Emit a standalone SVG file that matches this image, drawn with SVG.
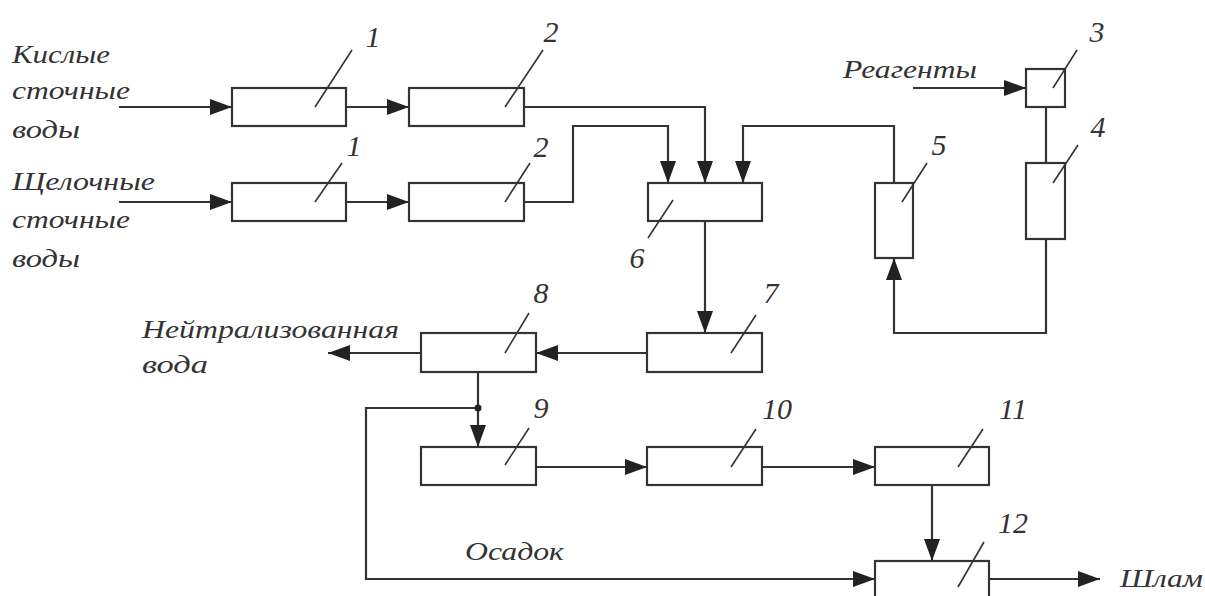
<svg xmlns="http://www.w3.org/2000/svg" width="1205" height="596" viewBox="0 0 1205 596">
<style>
.box{fill:#fff;stroke:#333;stroke-width:2.2}
.ln{fill:none;stroke:#333;stroke-width:2.2}
.ld{stroke:#333;stroke-width:1.6}
.t{font-family:"Liberation Serif","DejaVu Serif",serif;font-style:italic;font-size:25px;fill:#333}
.n{font-family:"Liberation Serif","DejaVu Serif",serif;font-style:italic;font-size:30px;fill:#333;text-anchor:middle}
</style>
<defs>
<marker id="ah" markerUnits="userSpaceOnUse" markerWidth="24" markerHeight="16" refX="22" refY="8" orient="auto">
<path d="M0,0 L22,8 L0,16 Z" fill="#222"/>
</marker>
</defs>
<rect width="1205" height="596" fill="#fff"/>
<g id="connectors">
<line class="ln" x1="119" y1="107" x2="232" y2="107" marker-end="url(#ah)"/>
<line class="ln" x1="346" y1="107" x2="409" y2="107" marker-end="url(#ah)"/>
<line class="ln" x1="119" y1="202" x2="232" y2="202" marker-end="url(#ah)"/>
<line class="ln" x1="346" y1="202" x2="409" y2="202" marker-end="url(#ah)"/>
<polyline class="ln" points="524,107 705,107 705,183" marker-end="url(#ah)"/>
<polyline class="ln" points="524,202 573,202 573,126 668,126 668,183" marker-end="url(#ah)"/>
<polyline class="ln" points="894,183 894,126 743,126 743,183" marker-end="url(#ah)"/>
<line class="ln" x1="913" y1="88" x2="1026" y2="88" marker-end="url(#ah)"/>
<line class="ln" x1="1046" y1="107" x2="1046" y2="163"/>
<polyline class="ln" points="1046,239 1046,333 894,333 894,258" marker-end="url(#ah)"/>
<line class="ln" x1="705" y1="221" x2="705" y2="333" marker-end="url(#ah)"/>
<line class="ln" x1="647" y1="353" x2="536" y2="353" marker-end="url(#ah)"/>
<line class="ln" x1="421" y1="353" x2="328" y2="353" marker-end="url(#ah)"/>
<line class="ln" x1="478" y1="372" x2="478" y2="447" marker-end="url(#ah)"/>
<polyline class="ln" points="478,408 366,408 366,579 875,579" marker-end="url(#ah)"/>
<circle cx="478" cy="408" r="3.5" fill="#222"/>
<line class="ln" x1="536" y1="467" x2="647" y2="467" marker-end="url(#ah)"/>
<line class="ln" x1="762" y1="467" x2="875" y2="467" marker-end="url(#ah)"/>
<line class="ln" x1="932" y1="485" x2="932" y2="561" marker-end="url(#ah)"/>
<line class="ln" x1="989" y1="579" x2="1100" y2="579" marker-end="url(#ah)"/>
</g>
<g id="labels">
<text class="t" x="12" y="63" textLength="98" lengthAdjust="spacingAndGlyphs">Кислые</text>
<text class="t" x="12" y="99" textLength="118" lengthAdjust="spacingAndGlyphs">сточные</text>
<text class="t" x="12" y="138" textLength="68" lengthAdjust="spacingAndGlyphs">воды</text>
<text class="t" x="12" y="190" textLength="143" lengthAdjust="spacingAndGlyphs">Щелочные</text>
<text class="t" x="12" y="228" textLength="118" lengthAdjust="spacingAndGlyphs">сточные</text>
<text class="t" x="12" y="267" textLength="68" lengthAdjust="spacingAndGlyphs">воды</text>
<text class="t" x="843" y="78" textLength="134" lengthAdjust="spacingAndGlyphs">Реагенты</text>
<text class="t" x="142" y="338" textLength="257" lengthAdjust="spacingAndGlyphs">Нейтрализованная</text>
<text class="t" x="142" y="373" textLength="66" lengthAdjust="spacingAndGlyphs">вода</text>
<text class="t" x="465" y="560" textLength="99" lengthAdjust="spacingAndGlyphs">Осадок</text>
<text class="t" x="1120" y="587" textLength="83" lengthAdjust="spacingAndGlyphs">Шлам</text>
</g>
<g id="node1a"><rect class="box" x="232" y="88" width="114" height="38"/><line class="ld" x1="352" y1="50" x2="315" y2="107"/><text class="n" x="373" y="47">1</text></g>
<g id="node1b"><rect class="box" x="232" y="183" width="114" height="38"/><line class="ld" x1="342" y1="163" x2="315" y2="202"/><text class="n" x="354" y="156">1</text></g>
<g id="node2a"><rect class="box" x="409" y="88" width="115" height="38"/><line class="ld" x1="543" y1="50" x2="505" y2="107"/><text class="n" x="551" y="42">2</text></g>
<g id="node2b"><rect class="box" x="409" y="183" width="115" height="38"/><line class="ld" x1="530" y1="163" x2="505" y2="202"/><text class="n" x="541" y="157">2</text></g>
<g id="node3"><rect class="box" x="1026" y="69" width="39" height="38"/><line class="ld" x1="1077" y1="50" x2="1053" y2="88"/><text class="n" x="1097" y="42">3</text></g>
<g id="node4"><rect class="box" x="1026" y="163" width="39" height="76"/><line class="ld" x1="1078" y1="145" x2="1053" y2="183"/><text class="n" x="1098" y="137">4</text></g>
<g id="node5"><rect class="box" x="875" y="183" width="38" height="75"/><line class="ld" x1="927" y1="163" x2="902" y2="202"/><text class="n" x="939" y="155">5</text></g>
<g id="node6"><rect class="box" x="648" y="183" width="114" height="38"/><line class="ld" x1="673" y1="200" x2="648" y2="238"/><text class="n" x="637" y="268">6</text></g>
<g id="node7"><rect class="box" x="647" y="333" width="115" height="39"/><line class="ld" x1="756" y1="315" x2="731" y2="353"/><text class="n" x="771" y="303">7</text></g>
<g id="node8"><rect class="box" x="421" y="333" width="115" height="39"/><line class="ld" x1="529" y1="313" x2="505" y2="353"/><text class="n" x="541" y="303">8</text></g>
<g id="node9"><rect class="box" x="421" y="447" width="115" height="38"/><line class="ld" x1="529" y1="428" x2="505" y2="465"/><text class="n" x="541" y="418">9</text></g>
<g id="node10"><rect class="box" x="647" y="447" width="115" height="38"/><line class="ld" x1="756" y1="429" x2="731" y2="467"/><text class="n" x="777" y="419">10</text></g>
<g id="node11"><rect class="box" x="875" y="447" width="114" height="38"/><line class="ld" x1="983" y1="429" x2="958" y2="467"/><text class="n" x="1013" y="419">11</text></g>
<g id="node12"><rect class="box" x="875" y="561" width="114" height="38"/><line class="ld" x1="984" y1="542" x2="958" y2="587"/><text class="n" x="1013" y="533">12</text></g>
</svg>
